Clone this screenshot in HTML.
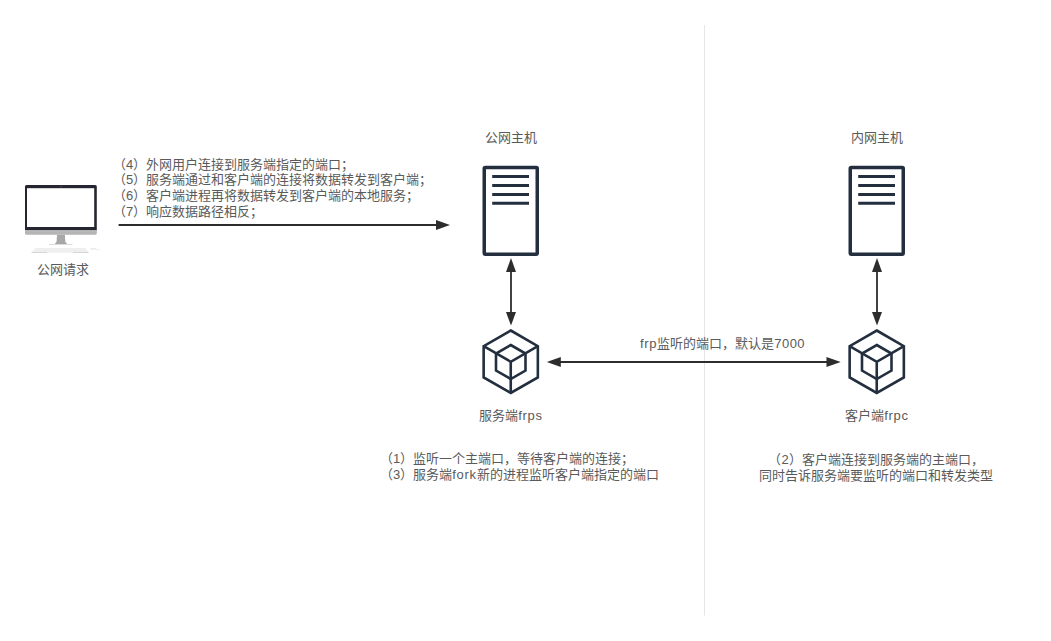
<!DOCTYPE html>
<html lang="zh-CN"><head><meta charset="utf-8">
<style>
html,body{margin:0;padding:0;background:#fff;}
body{width:1051px;height:641px;position:relative;overflow:hidden;font-family:"Liberation Sans",sans-serif;font-size:13px;color:#5a5a5a;}
.t{position:absolute;white-space:nowrap;line-height:15.8px;}
.c{text-align:center;}
.l{letter-spacing:0.7px;}
.d{letter-spacing:0.45px;}
svg{position:absolute;left:0;top:0;}
i{font-style:normal;display:inline-block;width:13px;text-align:center;}
</style></head><body>
<svg width="1051" height="641" viewBox="0 0 1051 641">
<!-- divider -->
<rect x="704" y="25" width="1" height="590.5" fill="#e6e6e6"/>
<g fill="none" stroke="#232f3e">
<rect x="484.25" y="167.5" width="53" height="86.8" rx="1" stroke-width="3.5"/>
<path d="M492.2 176.6H529M492.2 185.5H529M492.2 194.4H529M492.2 203.3H529" stroke-width="3"/>
</g>
<g transform="translate(366 0)" fill="none" stroke="#232f3e">
<rect x="484.25" y="167.5" width="53" height="86.8" rx="1" stroke-width="3.5"/>
<path d="M492.2 176.6H529M492.2 185.5H529M492.2 194.4H529M492.2 203.3H529" stroke-width="3"/>
</g>
<g fill="none" stroke="#232f3e" stroke-width="2.6" stroke-linejoin="miter">
<path d="M510.75 330.5L537.85 346.15V377.45L510.75 392.95L483.65 377.45V346.15Z"/>
<path d="M510.75 345L525.5 353.5V370.55L510.75 379.05L496 370.55V353.5Z"/>
<path d="M483.65 346.15L510.75 361.8L537.85 346.15M510.75 361.8V392.95"/>
</g>
<g transform="translate(366 0)" fill="none" stroke="#232f3e" stroke-width="2.6" stroke-linejoin="miter">
<path d="M510.75 330.5L537.85 346.15V377.45L510.75 392.95L483.65 377.45V346.15Z"/>
<path d="M510.75 345L525.5 353.5V370.55L510.75 379.05L496 370.55V353.5Z"/>
<path d="M483.65 346.15L510.75 361.8L537.85 346.15M510.75 361.8V392.95"/>
</g>
<!-- arrows -->
<g fill="#2d2d2d" stroke="#2d2d2d">
<path d="M118.6 225H437" stroke-width="1.8" fill="none"/>
<path d="M450 225L436 220L436 230Z" stroke="none"/>
<!-- vertical left -->
<path d="M511 270V313" stroke-width="1.8" fill="none"/>
<path d="M511 258L506 272L516 272Z" stroke="none"/>
<path d="M511 325.6L506 312L516 312Z" stroke="none"/>
<!-- vertical right -->
<path d="M877 270V313" stroke-width="1.8" fill="none"/>
<path d="M877 258L872 272L882 272Z" stroke="none"/>
<path d="M877 325.6L872 312L882 312Z" stroke="none"/>
<!-- horizontal -->
<path d="M559 362H828" stroke-width="1.8" fill="none"/>
<path d="M546.8 362L560.8 357L560.8 367Z" stroke="none"/>
<path d="M840.7 362L826.5 357L826.5 367Z" stroke="none"/>
</g>
<!-- monitor -->
<g>
<rect x="25" y="185" width="71.8" height="46" rx="1.6" fill="#262632"/>
<rect x="27" y="188.2" width="67.2" height="38.8" fill="#fff"/>
<path d="M25 230.2H96.8V233.2Q96.8 234.7 95.3 234.7H26.5Q25 234.7 25 233.2Z" fill="#b5b5b5"/>
<path d="M25 230.2H96.8V231.6H25Z" fill="#bdbdbd"/>
<path d="M57 234.7H64.9L65.3 241.6L67.2 244.2H54.7L56.6 241.6Z" fill="#a8a8a8"/>
<rect x="49" y="244" width="23.4" height="0.9" fill="#d9d9d9"/>
<path d="M35.3 248.1H85.3L88.9 252.7H31.4Z" fill="#efefef"/>
<rect x="31.5" y="252" width="15.5" height="0.9" fill="#d2d2d2"/>
<rect x="73" y="252" width="15.5" height="0.9" fill="#d2d2d2"/>
<rect x="90.5" y="248.3" width="6" height="1.2" fill="#e4e4e4"/><rect x="96.5" y="249.2" width="3.5" height="1" fill="#ececec"/>
<rect x="60.2" y="186" width="1.2" height="1.2" fill="#555"/>
</g>
</svg>
<div class="t c" style="left:23px;top:261.5px;width:80px;"><i>公</i><i>网</i><i>请</i><i>求</i></div>
<div class="t c" style="left:471px;top:130px;width:80px;"><i>公</i><i>网</i><i>主</i><i>机</i></div>
<div class="t c" style="left:837px;top:130px;width:80px;"><i>内</i><i>网</i><i>主</i><i>机</i></div>
<div class="t c" style="left:461px;top:408px;width:100px;"><i>服</i><i>务</i><i>端</i><span class="l">frps</span></div>
<div class="t c" style="left:827px;top:408px;width:100px;"><i>客</i><i>户</i><i>端</i><span class="l">frpc</span></div>
<div class="t" style="left:640px;top:336px;"><span class="l">frp</span><i>监</i><i>听</i><i>的</i><i>端</i><i>口</i><i>，</i><i>默</i><i>认</i><i>是</i><span class="d">7000</span></div>
<div class="t" style="left:113px;top:156.5px;"><i>（</i>4<i>）</i><i>外</i><i>网</i><i>用</i><i>户</i><i>连</i><i>接</i><i>到</i><i>服</i><i>务</i><i>端</i><i>指</i><i>定</i><i>的</i><i>端</i><i>口</i><i>；</i><br><i>（</i>5<i>）</i><i>服</i><i>务</i><i>端</i><i>通</i><i>过</i><i>和</i><i>客</i><i>户</i><i>端</i><i>的</i><i>连</i><i>接</i><i>将</i><i>数</i><i>据</i><i>转</i><i>发</i><i>到</i><i>客</i><i>户</i><i>端</i><i>；</i><br><i>（</i>6<i>）</i><i>客</i><i>户</i><i>端</i><i>进</i><i>程</i><i>再</i><i>将</i><i>数</i><i>据</i><i>转</i><i>发</i><i>到</i><i>客</i><i>户</i><i>端</i><i>的</i><i>本</i><i>地</i><i>服</i><i>务</i><i>；</i><br><i>（</i>7<i>）</i><i>响</i><i>应</i><i>数</i><i>据</i><i>路</i><i>径</i><i>相</i><i>反</i><i>；</i></div>
<div class="t" style="left:380px;top:451px;"><i>（</i>1<i>）</i><i>监</i><i>听</i><i>一</i><i>个</i><i>主</i><i>端</i><i>口</i><i>，</i><i>等</i><i>待</i><i>客</i><i>户</i><i>端</i><i>的</i><i>连</i><i>接</i><i>；</i><br><i>（</i>3<i>）</i><i>服</i><i>务</i><i>端</i><span class="l">fork</span><i>新</i><i>的</i><i>进</i><i>程</i><i>监</i><i>听</i><i>客</i><i>户</i><i>端</i><i>指</i><i>定</i><i>的</i><i>端</i><i>口</i></div>
<div class="t c" style="left:726px;top:452px;width:300px;"><i>（</i>2<i>）</i><i>客</i><i>户</i><i>端</i><i>连</i><i>接</i><i>到</i><i>服</i><i>务</i><i>端</i><i>的</i><i>主</i><i>端</i><i>口</i><i>，</i><br><i>同</i><i>时</i><i>告</i><i>诉</i><i>服</i><i>务</i><i>端</i><i>要</i><i>监</i><i>听</i><i>的</i><i>端</i><i>口</i><i>和</i><i>转</i><i>发</i><i>类</i><i>型</i></div>
</body></html>
